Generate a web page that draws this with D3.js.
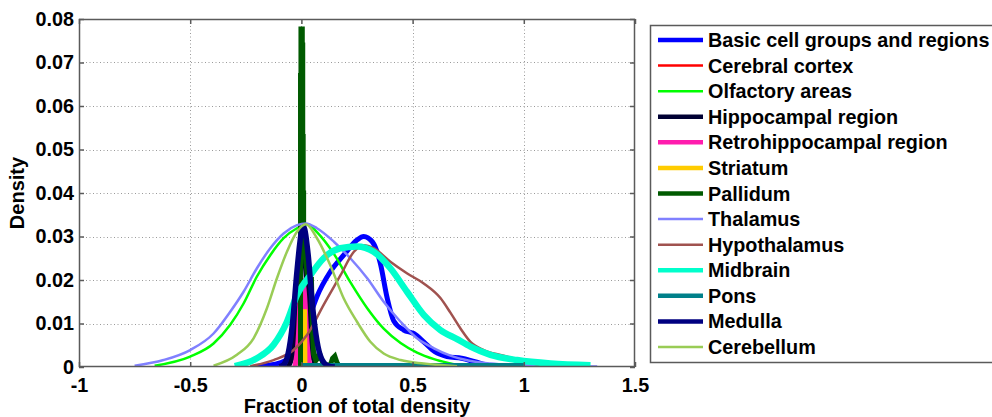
<!DOCTYPE html>
<html>
<head>
<meta charset="utf-8">
<script src="https://cdn.jsdelivr.net/npm/d3@7"></script>
<style>
  body { margin: 0; background: #fff; }
  svg { display: block; font-family: 'Liberation Sans', Arial, sans-serif; font-weight: bold; }
</style>
</head>
<body>
<script>
// ---- data ----
const xTicks = [-1, -0.5, 0, 0.5, 1, 1.5]
const xTickLabels = ['-1', '-0.5', '0', '0.5', '1', '1.5']
const yTicks = [0, 0.01, 0.02, 0.03, 0.04, 0.05, 0.06, 0.07, 0.08]
const yTickLabels = ['0', '0.01', '0.02', '0.03', '0.04', '0.05', '0.06', '0.07', '0.08']

const regionNames = [
  'Basic cell groups and regions', 'Cerebral cortex', 'Olfactory areas',
  'Hippocampal region', 'Retrohippocampal region', 'Striatum', 'Pallidum',
  'Thalamus', 'Hypothalamus', 'Midbrain', 'Pons', 'Medulla', 'Cerebellum'
]

const basicCells = [[-0.2, 0.0001], [-0.15, 0.0004], [-0.1, 0.0009], [-0.05, 0.0022], [0, 0.0058],
  [0.03, 0.0105], [0.07, 0.0162], [0.13, 0.0219], [0.19, 0.0257], [0.25, 0.0292], [0.28, 0.03],
  [0.32, 0.0287], [0.355, 0.0238], [0.385, 0.016], [0.415, 0.0106], [0.46, 0.0085], [0.505, 0.0077],
  [0.55, 0.0058], [0.6, 0.0035], [0.655, 0.0024], [0.72, 0.002], [0.78, 0.0012], [0.85, 0.0003], [0.9, 0.0001]]
const cerebralCortex = [[-0.025, 0], [-0.012, 0.005], [-0.003, 0.013], [0.005, 0.016], [0.013, 0.013], [0.022, 0.005], [0.035, 0]]
const olfactory = [[-0.66, 0.0003], [-0.5, 0.0024], [-0.395, 0.0054], [-0.32, 0.0097], [-0.26, 0.0146],
  [-0.2, 0.0208], [-0.14, 0.0257], [-0.08, 0.0296], [-0.02, 0.0319], [0.03, 0.0328], [0.07, 0.031],
  [0.146, 0.026], [0.22, 0.0195], [0.296, 0.0135], [0.37, 0.0088], [0.446, 0.0055], [0.52, 0.0033],
  [0.596, 0.0018], [0.67, 0.0008], [0.72, 0.0002]]
const hippocampal = [[-0.06, 0], [-0.035, 0.004], [-0.015, 0.018], [0.005, 0.03], [0.025, 0.018], [0.045, 0.004], [0.07, 0]]
const retrohippocampal = [[-0.03, 0], [-0.015, 0.006], [-0.005, 0.016], [0.005, 0.02], [0.015, 0.016], [0.025, 0.006], [0.04, 0]]
const striatum = [[0.003, 0], [0.005, 0.0127], [0.014, 0.0127], [0.016, 0]]
const pallidum = [[-0.004, 0], [-0.004, 0.067], [-0.002, 0.067], [-0.002, 0.0777], [0.004, 0.0777],
  [0.004, 0.074], [0.006, 0.074], [0.006, 0.053], [0.008, 0.053], [0.008, 0.04], [0.01, 0.04],
  [0.01, 0.03], [0.02, 0.024], [0.03, 0.02], [0.04, 0.02], [0.045, 0.0207], [0.05, 0.008],
  [0.055, 0.003], [0.065, 0.0015], [0.075, 0.002], [0.08, 0.0035], [0.085, 0.0025], [0.1, 0.0005],
  [0.13, 0.0004], [0.14, 0.002], [0.15, 0.0025], [0.16, 0.001], [0.17, 0.0002], [0.2, 0]]
const thalamus = [[-0.75, 0.0003], [-0.62, 0.0016], [-0.5, 0.0039], [-0.395, 0.0077], [-0.32, 0.0127],
  [-0.26, 0.0173], [-0.2, 0.0227], [-0.14, 0.0273], [-0.08, 0.0307], [-0.02, 0.0326], [0.02, 0.033],
  [0.07, 0.0319], [0.146, 0.0288], [0.22, 0.025], [0.296, 0.0204], [0.37, 0.015], [0.446, 0.0104],
  [0.52, 0.0066], [0.596, 0.0043], [0.67, 0.0026], [0.75, 0.0015], [0.85, 0.0008], [1.0, 0.0004],
  [1.15, 0.0002], [1.33, 0.0001]]
const hypothalamus = [[-0.23, 0.0002], [-0.125, 0.0016], [-0.035, 0.0039], [0.026, 0.0074], [0.1, 0.0143],
  [0.176, 0.0211], [0.236, 0.0265], [0.28, 0.028], [0.325, 0.0273], [0.4, 0.0242], [0.476, 0.0215],
  [0.55, 0.0192], [0.626, 0.0158], [0.67, 0.0125], [0.716, 0.0088], [0.76, 0.0058], [0.82, 0.0039],
  [0.9, 0.0027], [0.97, 0.0018], [1.03, 0.0009], [1.1, 0.0002]]
const midbrain = [[-0.3, 0.0002], [-0.2, 0.002], [-0.125, 0.0051], [-0.065, 0.0104], [-0.02, 0.0165],
  [0.04, 0.0211], [0.1, 0.025], [0.175, 0.0273], [0.25, 0.0277], [0.325, 0.0265], [0.4, 0.0227],
  [0.475, 0.0173], [0.55, 0.012], [0.625, 0.0085], [0.7, 0.0064], [0.76, 0.0047], [0.85, 0.0028],
  [0.97, 0.0016], [1.12, 0.0008], [1.3, 0.0004]]
const pons = [[0.005, 0.0004], [0.2, 0.0004], [0.5, 0.0004], [0.8, 0.0004], [1.0, 0.0004]]
const medulla = [[-0.1, 0], [-0.08, 0.0005], [-0.06, 0.003], [-0.04, 0.01], [-0.02, 0.022], [0, 0.031],
  [0.01, 0.0322], [0.03, 0.026], [0.05, 0.014], [0.07, 0.006], [0.09, 0.002], [0.12, 0.0003], [0.15, 0]]
const cerebellum = [[-0.395, 0.0003], [-0.29, 0.0028], [-0.215, 0.0066], [-0.155, 0.0135], [-0.11, 0.0204],
  [-0.065, 0.0265], [-0.02, 0.0311], [0.02, 0.0328], [0.07, 0.0296], [0.13, 0.0234], [0.19, 0.0158],
  [0.25, 0.0104], [0.31, 0.0058], [0.37, 0.0031], [0.446, 0.0016], [0.55, 0.0008], [0.7, 0.0002]]

const regionValues = [basicCells, cerebralCortex, olfactory, hippocampal, retrohippocampal, striatum,
  pallidum, thalamus, hypothalamus, midbrain, pons, medulla, cerebellum]

// ---- styles ----
const regionColours = ['#0000ff', '#ff0000', '#00ff00', '#000033', '#ff1cae', '#ffcc00', '#005a00',
  '#8080ff', '#a0524f', '#00ffcc', '#00808a', '#000080', '#99cc55']
const regionWidths = [5, 2.5, 2.5, 5, 5, 5, 5, 2.5, 2.5, 6.5, 4.5, 5.5, 2.5]
const jagged = ['Striatum', 'Pallidum', 'Pons']

const width = 992
const height = 417
const plot = { left: 79, right: 635, top: 19, bottom: 367 }
const fontSize = 19.8

const svg = d3.select(document.body).append('svg')
  .attr('width', width)
  .attr('height', height)
  .attr('xmlns', 'http://www.w3.org/2000/svg')

svg.append('rect').attr('width', width).attr('height', height).attr('fill', 'white')

const x = d3.scaleLinear([-1, 1.5], [plot.left, plot.right])
const y = d3.scaleLinear([0, 0.08], [plot.bottom, plot.top])

// grid
const grid = svg.append('g').attr('stroke', '#9a9a9a').attr('stroke-width', 1).attr('stroke-dasharray', '1,2.5')
grid.selectAll('line.gx').data(xTicks.slice(1, -1)).join('line')
  .attr('x1', d => Math.round(x(d)) + 0.5).attr('x2', d => Math.round(x(d)) + 0.5)
  .attr('y1', plot.top).attr('y2', plot.bottom)
grid.selectAll('line.gy').data(yTicks.slice(1, -1)).join('line')
  .attr('y1', d => Math.round(y(d)) + 0.5).attr('y2', d => Math.round(y(d)) + 0.5)
  .attr('x1', plot.left).attr('x2', plot.right)

// curves
svg.append('clipPath').attr('id', 'plotclip').append('rect')
  .attr('x', plot.left).attr('y', plot.top)
  .attr('width', plot.right - plot.left).attr('height', plot.bottom - plot.top)

const smoothLine = d3.line().x(d => x(d[0])).y(d => y(d[1])).curve(d3.curveMonotoneX)
const sharpLine = d3.line().x(d => x(d[0])).y(d => y(d[1]))

const curves = svg.append('g').attr('clip-path', 'url(#plotclip)')
regionNames.forEach((name, i) => {
  curves.append('path')
    .attr('d', (jagged.includes(name) ? sharpLine : smoothLine)(regionValues[i]))
    .attr('fill', 'none')
    .attr('stroke', regionColours[i])
    .attr('stroke-width', regionWidths[i])
    .attr('stroke-linejoin', jagged.includes(name) ? 'miter' : 'round')
})

// axes box
const axisColour = '#5a5a5a'
svg.append('rect')
  .attr('x', plot.left + 0.5).attr('y', plot.top + 0.5)
  .attr('width', plot.right - plot.left - 1).attr('height', plot.bottom - plot.top - 1)
  .attr('fill', 'none').attr('stroke', axisColour).attr('stroke-width', 1.5)

const bottomAxis = d3.axisBottom(x).tickValues(xTicks).tickFormat((d, i) => xTickLabels[i]).tickSizeInner(-5).tickSizeOuter(0).tickPadding(11)
const topAxis = d3.axisTop(x).tickValues(xTicks).tickFormat('').tickSizeInner(-5).tickSizeOuter(0)
const leftAxis = d3.axisLeft(y).tickValues(yTicks).tickFormat((d, i) => yTickLabels[i]).tickSizeInner(-5).tickSizeOuter(0).tickPadding(5)
const rightAxis = d3.axisRight(y).tickValues(yTicks).tickFormat('').tickSizeInner(-5).tickSizeOuter(0)

function styleAxis(g) {
  g.select('.domain').remove()
  g.selectAll('.tick line').attr('stroke', axisColour).attr('stroke-width', 1.5)
  g.selectAll('.tick text').attr('fill', '#000').attr('font-size', fontSize)
    .attr('font-family', "'Liberation Sans', Arial, sans-serif").attr('font-weight', 'bold')
}

svg.append('g').attr('transform', `translate(0,${plot.bottom})`).call(bottomAxis).call(styleAxis)
svg.append('g').attr('transform', `translate(0,${plot.top})`).call(topAxis).call(styleAxis)
svg.append('g').attr('transform', `translate(${plot.left},0)`).call(leftAxis).call(styleAxis)
svg.append('g').attr('transform', `translate(${plot.right},0)`).call(rightAxis).call(styleAxis)

// axis titles
svg.append('text')
  .attr('x', (plot.left + plot.right) / 2).attr('y', 413)
  .attr('text-anchor', 'middle').attr('font-size', 20)
  .text('Fraction of total density')
svg.append('text')
  .attr('transform', `translate(24,${(plot.top + plot.bottom) / 2}) rotate(-90)`)
  .attr('text-anchor', 'middle').attr('font-size', 20)
  .text('Density')

// legend
const legend = svg.append('g')
legend.append('rect')
  .attr('x', 650.5).attr('y', 25.5).attr('width', 360).attr('height', 337)
  .attr('fill', 'white').attr('stroke', axisColour).attr('stroke-width', 1.5)

const rowY = d3.scaleLinear([0, regionNames.length - 1], [40, 347])
regionNames.forEach((name, i) => {
  const cy = rowY(i)
  legend.append('line')
    .attr('x1', 658).attr('x2', 703).attr('y1', cy).attr('y2', cy)
    .attr('stroke', regionColours[i])
    .attr('stroke-width', Math.min(regionWidths[i], 4.5))
  legend.append('text')
    .attr('x', 708).attr('y', cy + 7)
    .attr('font-size', fontSize)
    .text(name)
})
</script>
</body>
</html>
